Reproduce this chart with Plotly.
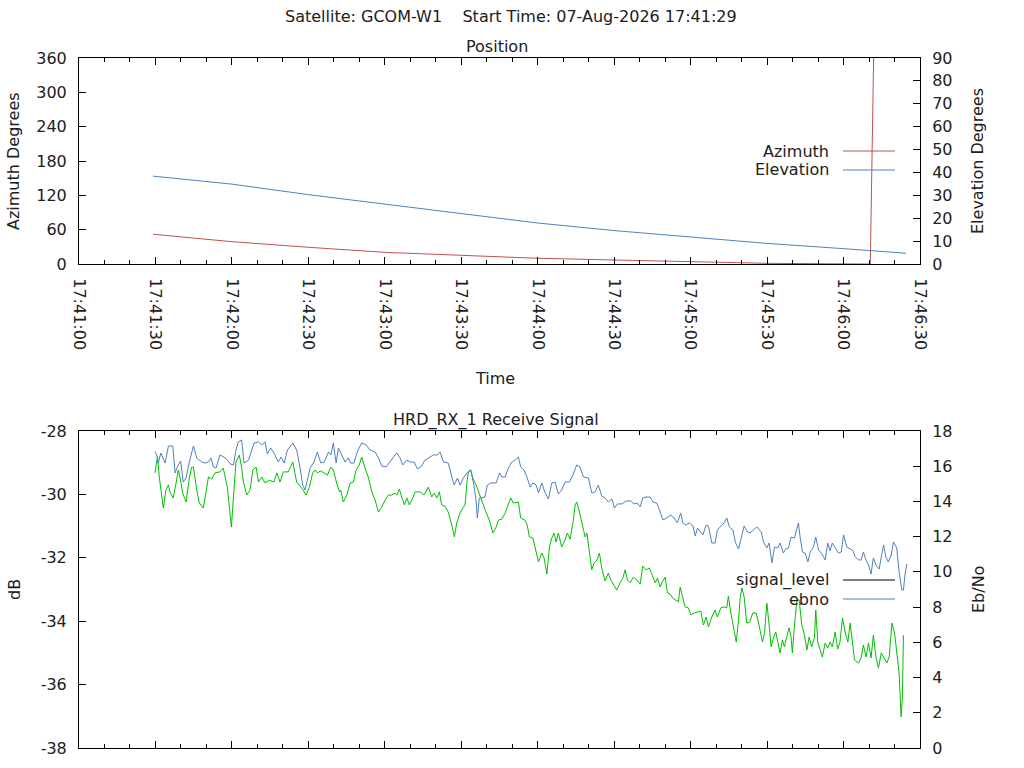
import pandas as pd
import plotly.graph_objects as go

# Pass start, seconds are measured from 17:41:00
base_time = pd.Timestamp('2026-08-07 17:41:00')

# Position panel
az_t = [29, 60, 90, 120, 150, 180, 210, 240, 270, 296, 310.5, 311.8]
azimuth = [52.0, 39.0, 29.2, 20.4, 15.2, 10.0, 7.0, 4.1, 1.2, 0.3, 0.0, 360.0]

el_t = [29, 60, 90, 120, 150, 180, 210, 240, 270, 300, 324.5]
elevation = [38.4, 34.9, 30.3, 26.1, 22.0, 17.9, 14.6, 11.7, 9.0, 6.7, 4.7]

# Receive signal panel
sig_t = [
    29.8, 30.8, 31.5, 32.4, 33.1, 34.1, 35.1, 35.7, 37.0, 38.1, 39.0, 39.6, 40.7, 42.0, 43.3, 44.2,
    44.9, 46.2, 47.2, 48.8, 49.8, 50.8, 52.1, 53.4, 55.3, 56.6, 58.2, 59.0, 59.8, 60.6, 61.6, 62.9,
    63.8, 64.5, 65.8, 67.1, 68.2, 69.5, 70.4, 71.7, 73.0, 74.7, 76.5, 77.6, 78.9, 80.2, 82.1, 83.9,
    85.4, 87.4, 89.1, 90.4, 91.7, 92.6, 93.5, 94.9, 95.9, 97.5, 98.8, 99.8, 101.1, 102.2, 102.7, 103.7,
    105.1, 106.4, 107.7, 108.7, 110.0, 110.9, 112.2, 113.5, 114.9, 116.2, 117.5, 118.8, 120.1, 121.4,
    122.7, 124.0, 124.7, 125.7, 126.6, 127.7, 128.6, 129.6, 130.6, 131.9, 133.8, 135.4, 137.1, 138.4,
    139.3, 140.4, 141.4, 142.3, 143.6, 144.9, 146.3, 147.3, 148.2, 149.5, 150.8, 151.5, 152.2, 152.8,
    153.7, 154.5, 155.8, 157.1, 158.4, 159.7, 161.0, 162.4, 163.7, 164.6, 165.9, 167.2, 168.5, 169.4,
    170.4, 172.4, 173.3, 175.0, 175.9, 176.7, 178.1, 179.0, 180.3, 181.6, 182.5, 183.6, 184.6, 185.5,
    186.4, 187.2, 188.1, 189.4, 190.7, 191.6, 192.7, 193.8, 194.7, 195.3, 196.4, 197.7, 198.6, 199.3,
    200.3, 201.2, 202.1, 203.2, 204.2, 205.1, 206.4, 207.7, 208.7, 209.7, 211.0, 212.3, 213.4, 214.3,
    215.2, 216.3, 217.5, 218.9, 220.2, 221.2, 222.5, 223.8, 225.2, 226.1, 227.0, 228.0, 229.1, 230.0,
    230.9, 231.9, 233.0, 234.3, 235.2, 235.9, 236.9, 237.8, 239.1, 240.1, 241.4, 243.1, 244.0, 245.0,
    246.1, 247.0, 248.3, 249.6, 250.5, 251.8, 253.1, 254.2, 254.8, 255.8, 256.8, 257.9, 258.8, 259.4,
    260.1, 261.0, 262.0, 263.1, 264.4, 265.7, 266.4, 267.3, 268.2, 269.0, 269.9, 270.8, 271.6, 272.5,
    273.4, 274.2, 275.1, 276.0, 276.8, 277.7, 278.6, 279.4, 279.9, 280.7, 281.7, 282.6, 283.6, 284.7,
    285.6, 286.5, 287.5, 288.6, 289.1, 289.9, 290.8, 291.7, 292.8, 293.8, 294.7, 295.6, 296.7, 297.7,
    298.6, 299.6, 300.6, 301.7, 302.6, 303.5, 304.3, 305.9, 306.9, 307.8, 308.8, 309.8, 310.8, 311.7,
    312.7, 313.7, 314.8, 315.7, 317.0, 317.9, 319.0, 320.0, 320.9, 321.8, 322.6, 323.1, 323.5,
]
signal_level = [
    -29.32, -28.82, -29.45, -30.02, -30.43, -29.86, -29.70, -29.92, -30.11, -29.64, -29.23, -29.45,
    -29.96, -30.24, -29.48, -29.14, -29.14, -29.86, -30.27, -30.43, -29.92, -29.45, -29.51, -29.32,
    -29.29, -29.17, -29.77, -30.49, -31.03, -30.08, -28.98, -28.76, -29.14, -29.61, -30.02, -29.86,
    -29.23, -29.14, -29.61, -29.45, -29.64, -29.55, -29.61, -29.32, -29.61, -29.29, -29.29, -28.98,
    -29.61, -29.80, -30.02, -29.77, -29.32, -29.23, -29.32, -29.26, -29.32, -29.39, -29.14, -29.23,
    -29.64, -29.92, -29.86, -30.24, -30.02, -29.64, -29.61, -29.23, -29.07, -28.82, -29.17, -29.45,
    -29.92, -30.18, -30.56, -30.40, -30.18, -30.02, -30.02, -29.96, -30.02, -29.83, -30.08, -30.33,
    -30.11, -30.33, -30.18, -29.92, -29.92, -30.02, -29.77, -30.08, -29.96, -30.11, -29.92, -30.33,
    -30.37, -30.56, -30.97, -31.34, -30.90, -30.59, -30.40, -30.33, -29.64, -29.29, -29.23, -29.48,
    -29.70, -29.96, -30.27, -30.56, -30.81, -31.22, -31.03, -30.81, -30.78, -30.59, -30.33, -30.11,
    -30.27, -30.24, -30.74, -30.81, -30.97, -31.34, -31.38, -31.66, -32.13, -31.85, -32.01, -32.51,
    -31.66, -31.38, -31.22, -31.50, -31.22, -31.66, -31.44, -31.22, -31.41, -30.90, -30.33, -30.24,
    -30.56, -31.03, -31.34, -31.22, -31.85, -32.38, -32.16, -32.07, -31.85, -32.32, -32.73, -32.48,
    -32.70, -32.86, -33.02, -32.79, -32.64, -32.38, -32.70, -32.79, -32.61, -32.70, -32.83, -32.26,
    -32.38, -32.32, -32.61, -32.79, -32.64, -32.92, -32.73, -32.61, -33.11, -33.14, -33.27, -33.33,
    -33.39, -32.92, -33.24, -33.55, -33.58, -33.80, -33.74, -33.71, -33.68, -34.12, -33.87, -34.18,
    -33.87, -33.65, -33.87, -33.58, -33.55, -33.58, -33.21, -33.74, -34.18, -34.66, -33.96, -33.27,
    -32.95, -33.24, -34.06, -34.03, -33.74, -33.74, -33.96, -34.28, -34.66, -34.37, -33.43, -34.12,
    -34.81, -34.53, -34.34, -34.66, -35.00, -34.59, -34.81, -34.50, -34.21, -34.50, -35.00, -34.18,
    -33.33, -33.33, -34.12, -34.44, -34.91, -34.50, -34.81, -34.50, -33.65, -34.66, -34.91, -35.13,
    -34.69, -34.85, -34.66, -34.81, -34.34, -34.88, -34.66, -33.90, -34.34, -34.66, -34.06, -34.66,
    -35.22, -35.32, -35.16, -34.75, -35.13, -34.69, -35.16, -34.44, -35.13, -35.48, -35.00, -35.13,
    -35.32, -35.13, -34.06, -34.37, -35.00, -35.63, -37.02, -36.39, -34.44,
]

ebno_t = [
    29.8, 30.5, 31.1, 32.1, 33.8, 35.1, 36.8, 37.7, 38.6, 39.9, 40.9, 42.0, 43.3, 44.9, 46.2, 48.2,
    49.5, 50.8, 51.8, 52.7, 53.8, 55.3, 56.9, 58.2, 59.3, 60.6, 61.6, 62.5, 63.8, 64.8, 66.5, 68.7,
    70.4, 71.7, 73.0, 73.9, 75.2, 76.5, 78.2, 79.3, 80.5, 81.8, 83.9, 85.4, 86.7, 87.8, 88.7, 89.6,
    90.7, 92.2, 93.5, 94.9, 96.2, 97.9, 98.8, 99.8, 100.9, 101.8, 103.5, 104.4, 105.7, 106.6, 107.9,
    109.2, 110.9, 112.6, 114.2, 116.2, 117.5, 118.8, 120.5, 121.8, 123.4, 124.7, 126.0, 127.0, 128.6,
    129.9, 131.5, 132.8, 134.1, 135.8, 137.8, 139.1, 140.6, 141.7, 143.0, 144.9, 145.9, 147.2, 148.5,
    149.5, 150.8, 152.2, 153.7, 154.8, 155.8, 156.3, 157.1, 158.0, 159.3, 160.2, 161.6, 163.7, 165.0,
    165.9, 167.2, 168.5, 169.8, 171.1, 172.4, 173.3, 174.6, 175.9, 177.0, 178.1, 179.4, 180.3, 181.6,
    182.9, 184.2, 185.5, 186.8, 188.1, 189.4, 190.7, 192.4, 193.8, 195.3, 196.6, 197.9, 199.9, 201.2,
    202.5, 203.8, 205.1, 206.4, 207.7, 209.1, 210.1, 211.3, 213.0, 214.7, 216.5, 217.8, 219.1, 220.2,
    221.2, 222.5, 224.1, 225.2, 226.7, 227.8, 229.1, 230.6, 232.2, 233.5, 234.8, 236.1, 236.9, 238.2,
    239.5, 240.9, 241.8, 242.7, 243.7, 244.8, 246.1, 247.0, 248.3, 249.6, 250.5, 251.8, 253.1, 254.2,
    255.2, 256.6, 257.5, 258.8, 259.7, 261.0, 262.3, 263.3, 264.6, 266.0, 267.7, 268.6, 269.9, 270.8,
    271.9, 272.9, 274.2, 275.1, 276.4, 277.3, 278.4, 279.4, 280.7, 281.7, 282.3, 283.0, 283.9, 284.9,
    286.0, 286.9, 288.2, 289.1, 290.2, 291.5, 292.8, 293.8, 294.7, 295.6, 296.7, 298.0, 299.1, 300.0,
    301.3, 302.6, 303.5, 304.6, 305.9, 306.9, 307.8, 308.8, 309.8, 310.8, 311.7, 312.7, 314.0, 314.8,
    315.7, 316.6, 317.6, 318.7, 319.6, 320.9, 321.8, 322.9, 323.5, 324.2, 324.8,
]
ebno = [
    16.83, 16.64, 16.18, 16.75, 16.18, 17.15, 17.15, 15.62, 15.96, 16.30, 15.10, 15.33, 16.24, 17.15,
    16.47, 16.24, 16.18, 16.24, 16.47, 15.96, 15.90, 16.64, 16.52, 16.35, 16.13, 16.07, 16.92, 17.38,
    17.49, 16.18, 16.35, 17.32, 17.38, 17.21, 17.38, 16.70, 17.04, 16.75, 16.24, 16.52, 16.18, 16.92,
    17.32, 16.92, 15.96, 14.93, 14.65, 15.22, 15.90, 16.24, 16.81, 16.18, 16.24, 16.81, 16.64, 17.32,
    16.18, 17.04, 16.52, 16.24, 16.47, 16.18, 16.18, 16.81, 17.32, 17.21, 16.92, 16.81, 16.47, 16.01,
    15.96, 16.24, 16.52, 16.75, 16.47, 16.07, 16.35, 16.24, 16.24, 15.84, 15.96, 16.35, 16.52, 16.64,
    16.64, 16.81, 16.24, 16.18, 15.62, 14.93, 15.33, 14.93, 15.33, 15.62, 15.79, 15.05, 14.08, 13.06,
    14.20, 14.20, 14.25, 14.93, 15.05, 15.05, 15.62, 15.39, 15.39, 15.90, 16.24, 16.35, 16.52, 15.96,
    15.79, 15.33, 14.82, 15.05, 14.93, 14.48, 15.05, 14.48, 14.14, 15.05, 15.10, 14.42, 14.65, 15.10,
    15.10, 15.50, 16.07, 15.96, 15.39, 15.33, 14.48, 14.54, 14.93, 14.31, 14.20, 13.97, 14.14, 13.63,
    13.86, 13.86, 14.03, 14.03, 13.86, 13.91, 13.69, 14.20, 14.25, 14.25, 13.97, 13.91, 13.52, 12.95,
    13.06, 13.23, 13.06, 12.78, 13.34, 12.78, 12.66, 12.78, 12.61, 12.04, 12.49, 12.27, 12.10, 12.66,
    12.61, 11.64, 11.64, 12.38, 12.61, 12.78, 13.06, 12.55, 12.38, 11.70, 11.30, 11.92, 12.61, 12.27,
    12.21, 12.38, 12.55, 12.27, 11.70, 11.36, 11.64, 10.51, 11.41, 11.36, 11.64, 11.07, 11.30, 11.36,
    11.98, 11.92, 12.55, 12.78, 11.92, 11.13, 11.07, 10.56, 11.13, 11.41, 11.98, 11.24, 11.02, 10.68,
    11.64, 11.19, 11.64, 11.41, 11.07, 11.13, 12.10, 11.41, 11.30, 11.24, 10.85, 10.68, 10.68, 11.13,
    10.68, 10.39, 9.88, 10.79, 10.39, 10.16, 10.85, 11.53, 10.85, 10.56, 10.96, 11.70, 11.36, 9.99,
    8.97, 8.97, 9.94, 10.45,
]

# Tick labels for the dB axis (gnuplot writes a plain hyphen)
db_ticks = [-38, -36, -34, -32, -30, -28]
db_labels = ['-38', '-36', '-34', '-32', '-30', '-28']


def to_time(secs):
    return base_time + pd.to_timedelta(secs, unit='s')


RED = '#c0504d'
BLUE = '#4f81bd'
GREEN = '#00c000'
FONT = 'DejaVu Sans'
W, H = 1024, 768


def px(x):
    return x / W


def py(y):
    return 1 - y / H


fig = go.Figure()

fig.add_trace(go.Scatter(x=to_time(az_t), y=azimuth, mode='lines', name='Azimuth',
                         line=dict(color=RED, width=1), xaxis='x', yaxis='y'))
fig.add_trace(go.Scatter(x=to_time(el_t), y=elevation, mode='lines', name='Elevation',
                         line=dict(color=BLUE, width=1), xaxis='x', yaxis='y2'))
fig.add_trace(go.Scatter(x=to_time(sig_t), y=signal_level, mode='lines', name='signal_level',
                         line=dict(color=GREEN, width=1), xaxis='x2', yaxis='y3'))
fig.add_trace(go.Scatter(x=to_time(ebno_t), y=ebno, mode='lines', name='ebno',
                         line=dict(color=BLUE, width=1), xaxis='x2', yaxis='y4'))

x_dom = [px(79), px(920)]
top_dom = [py(264), py(58)]
bot_dom = [py(748), py(431)]
t_range = [base_time, to_time(330)]

common_x = dict(type='date', range=t_range, domain=x_dom, dtick=30000, tickformat='%H:%M:%S',
                ticks='inside', ticklen=7, tickcolor='black', showline=True, linecolor='black',
                linewidth=1, mirror='ticks', showgrid=False, zeroline=False, automargin=False,
                ticklabelstandoff=10,
                minor=dict(dtick=10000, ticks='inside', ticklen=4, tickcolor='black', showgrid=False))
common_y = dict(ticks='inside', ticklen=7, tickcolor='black', showline=True, linecolor='black',
                linewidth=1, showgrid=False, zeroline=False, ticklabelstandoff=8, automargin=False)

fig.update_layout(
    width=W, height=H,
    paper_bgcolor='white', plot_bgcolor='white',
    margin=dict(l=0, r=0, t=0, b=0),
    showlegend=False,
    font=dict(family=FONT, size=16, color='#202020'),
    xaxis=dict(common_x, anchor='y', tickangle=90, showticklabels=True),
    xaxis2=dict(common_x, anchor='y3', showticklabels=False),
    yaxis=dict(common_y, domain=top_dom, anchor='x', range=[0, 360], dtick=60, mirror=True),
    yaxis2=dict(common_y, overlaying='y', side='right', anchor='x', range=[0, 90], dtick=10),
    yaxis3=dict(common_y, domain=bot_dom, anchor='x2', range=[-38, -28], tickvals=db_ticks,
                ticktext=db_labels, mirror=True),
    yaxis4=dict(common_y, overlaying='y3', side='right', anchor='x2', range=[0, 18], dtick=2),
)

# Titles and axis labels
texts = [
    ('Satellite: GCOM-W1    Start Time: 07-Aug-2026 17:41:29', 511, 17, 0),
    ('Position', 497, 46, 0),
    ('HRD_RX_1 Receive Signal', 496, 420, 0),
    ('Time', 495, 379, 0),
    ('Azimuth Degrees', 14, 161, -90),
    ('Elevation Degrees', 978, 161, -90),
    ('dB', 14, 590, -90),
    ('Eb/No', 978, 590, -90),
]
for txt, x, y, ang in texts:
    fig.add_annotation(text=txt, x=px(x), y=py(y), xref='paper', yref='paper', showarrow=False,
                       textangle=ang, xanchor='center', yanchor='middle')

# gnuplot-style keys: text right-aligned, sample line to the right
keys = [('Azimuth', RED, 151), ('Elevation', BLUE, 170),
        ('signal_level', 'black', 580), ('ebno', BLUE, 599)]
for name, color, y in keys:
    fig.add_annotation(text=name, x=px(831), y=py(y), xref='paper', yref='paper', showarrow=False,
                       xanchor='right', yanchor='middle')
    fig.add_shape(type='line', xref='paper', yref='paper', x0=px(843), x1=px(895),
                  y0=py(y), y1=py(y), line=dict(color=color, width=1))

# drop the default page margin so the figure sits at the window's top-left corner
fig.write_html('out.html', config={'displayModeBar': False},
               post_script="document.body.style.margin='0';")
